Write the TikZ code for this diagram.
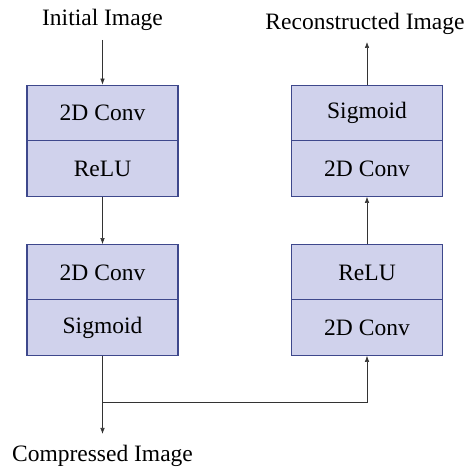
\documentclass[tikz,border=0pt]{standalone}
\usepackage{fontspec}
\setmainfont{Liberation Serif}
\usetikzlibrary{arrows.meta}

\definecolor{boxfill}{RGB}{208,210,236}
\definecolor{boxline}{RGB}{62,72,140}

\tikzset{
	layer/.style={draw=boxline, fill=boxfill, line width=1.3pt, minimum width=151pt, minimum height=55.5pt, inner sep=0pt},
	lbl/.style={inner sep=0pt},
	arr/.style={-{Latex[length=6pt,width=4.5pt]}, line width=0.6pt, draw=black!80}
}

\begin{document}
\begin{tikzpicture}[x=1pt, y=1pt, font=\fontsize{23.5}{28}\selectfont]
	\useasboundingbox (0,0) rectangle (468,468);
	
	% encoder
	\node[layer] (lc1) at (102.5,355) {2D Conv};
	\node[layer] (lr1) at (102.5,299.5) {ReLU};
	\node[layer] (lc2) at (102.5,195.5) {2D Conv};
	\node[layer] (ls2) at (102.5,140.5) {Sigmoid};
	
	% decoder
	\node[layer] (rs1) at (367,355) {Sigmoid};
	\node[layer] (rc1) at (367,299.5) {2D Conv};
	\node[layer] (rr2) at (367,195.5) {ReLU};
	\node[layer] (rc2) at (367,140.5) {2D Conv};
	
	\node[lbl] (init) at (102.5,448) {Initial Image};
	\node[lbl] (recon) at (365,444) {Reconstructed Image};
	\node[lbl] (comp) at (102.5,12) {Compressed Image};
	
	\coordinate (in0) at (102.5,428);
	\coordinate (out0) at (367,426);
	\coordinate (cmp0) at (102.5,34);
	\coordinate (split) at (102.5,66);
	
	\draw[arr] (in0) -- (lc1.north);
	\draw[arr] (lr1.south) -- (lc2.north);
	\draw[arr] (ls2.south) -- (cmp0);
	\draw[arr] (split) -| (rc2.south);
	\draw[arr] (rr2.north) -- (rc1.south);
	\draw[arr] (rs1.north) -- (out0);
\end{tikzpicture}
\end{document}
